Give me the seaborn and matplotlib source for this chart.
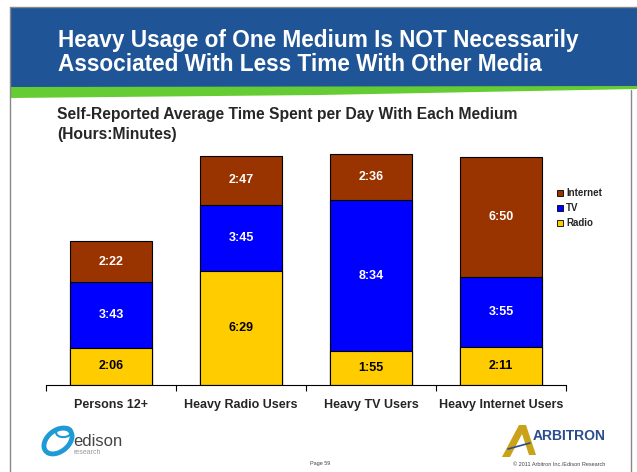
import matplotlib
matplotlib.use("Agg")
import matplotlib.pyplot as plt
import seaborn as sns
import pandas as pd
import numpy as np
from matplotlib.patches import Rectangle, Polygon, Ellipse

# ---- data (hours:minutes) ----
categories = ["Persons 12+", "Heavy Radio Users", "Heavy TV Users", "Heavy Internet Users"]
radio = ["2:06", "6:29", "1:55", "2:11"]
tv = ["3:43", "3:45", "8:34", "3:55"]
internet = ["2:22", "2:47", "2:36", "6:50"]
series_names = ["Internet", "TV", "Radio"]
series_colors = {"Internet": "#993300", "TV": "#0000FF", "Radio": "#FFCC00"}
label_colors = {"Internet": "white", "TV": "white", "Radio": "black"}

def to_min(s):
    h, m = s.split(":")
    return int(h) * 60 + int(m)

r = np.array([to_min(s) for s in radio])
t = np.array([to_min(s) for s in tv])
i = np.array([to_min(s) for s in internet])

sns.set_style("white")
plt.rcParams["font.family"] = ["Liberation Sans", "DejaVu Sans"]

W, H = 637, 472
fig = plt.figure(figsize=(W / 100, H / 100), dpi=100)

def fx(x):
    return x / W

def fy(y):
    return 1 - y / H

# slide frame
fig.add_artist(plt.Line2D([fx(10), fx(10)], [fy(7), fy(472)], color="#888888", lw=1.0))
fig.add_artist(plt.Line2D([fx(631), fx(631)], [fy(90), fy(472)], color="#888888", lw=1.0))
fig.add_artist(plt.Line2D([fx(10), fx(637)], [fy(7), fy(7)], color="#888888", lw=1.0))

# banner
fig.add_artist(Rectangle((fx(10), fy(88)), fx(627), 81 / H, transform=fig.transFigure,
                         facecolor="#1F5596", edgecolor="none"))
green = Polygon([(fx(10), fy(87)), (fx(637), fy(86)), (fx(637), fy(89)),
                 (fx(320), fy(95)), (fx(10), fy(98))], closed=True,
                transform=fig.transFigure, facecolor="#66CC33", edgecolor="none")
fig.add_artist(green)
fig.text(fx(58), fy(47.5), "Heavy Usage of One Medium Is NOT Necessarily", color="white",
         fontsize=16.25, fontweight="bold", va="baseline", ha="left")
fig.text(fx(58), fy(71), "Associated With Less Time With Other Media", color="white",
         fontsize=16.25, fontweight="bold", va="baseline", ha="left")

# subtitle
fig.text(fx(57), fy(115), "Self-Reported Average Time Spent per Day With Each Medium",
         fontsize=11.25, fontweight="bold", va="center", ha="left")
fig.text(fx(57), fy(135), "(Hours:Minutes)", fontsize=11.25, fontweight="bold", va="center", ha="left")

# axes
ax = fig.add_axes([fx(46), fy(385), fx(566) - fx(46), (385 - 150) / H])
df = pd.DataFrame({"cat": categories, "Radio": r, "TV": t, "Internet": i})
df["top_tv"] = df["Radio"] + df["TV"]
df["top_int"] = df["top_tv"] + df["Internet"]

bw = 0.63
sns.barplot(data=df, x="cat", y="top_int", color=series_colors["Internet"], saturation=1,
            width=bw, edgecolor="black", linewidth=0.8, ax=ax)
sns.barplot(data=df, x="cat", y="top_tv", color=series_colors["TV"], saturation=1,
            width=bw, edgecolor="black", linewidth=0.8, ax=ax)
sns.barplot(data=df, x="cat", y="Radio", color=series_colors["Radio"], saturation=1,
            width=bw, edgecolor="black", linewidth=0.8, ax=ax)

for k in range(len(categories)):
    segs = [("Radio", 0, r[k], radio[k]), ("TV", r[k], r[k] + t[k], tv[k]),
            ("Internet", r[k] + t[k], r[k] + t[k] + i[k], internet[k])]
    for name, lo, hi, lab in segs:
        ax.text(k, (lo + hi) / 2, lab, ha="center", va="center", fontsize=9,
                fontweight="bold", color=label_colors[name])

ax.set_xlim(-0.5, 3.5)
ax.set_ylim(0, 800)
ax.set_xlabel("")
ax.set_ylabel("")
ax.set_yticks([])
for s in ["top", "left", "right"]:
    ax.spines[s].set_visible(False)
ax.spines["bottom"].set_color("black")
ax.spines["bottom"].set_linewidth(0.8)
ax.set_xticks([-0.5, 0.5, 1.5, 2.5, 3.5])
ax.set_xticklabels([])
ax.set_xticks(range(len(categories)), minor=True)
ax.set_xticklabels(categories, minor=True, fontsize=9, fontweight="bold")
ax.tick_params(axis="x", which="major", direction="out", length=4, width=0.8, color="black", bottom=True)
ax.tick_params(axis="x", which="minor", length=0, pad=10)

# legend
for j, name in enumerate(series_names):
    yy = 193 + j * 15
    fig.add_artist(Rectangle((fx(557), fy(yy + 3)), 6 / W, 6 / H, transform=fig.transFigure,
                             facecolor=series_colors[name], edgecolor="black", lw=0.6))
    fig.text(fx(566), fy(yy), name, fontsize=7, fontweight="bold", va="center", ha="left")

# footer logos
fig.add_artist(Ellipse((fx(58), fy(441)), 24 / W, 28 / H, transform=fig.transFigure,
                       facecolor="none", edgecolor="#1E9BD7", lw=3.5, angle=-30))
fig.add_artist(Ellipse((fx(64), fy(432)), 16 / W, 10 / H, transform=fig.transFigure,
                       facecolor="none", edgecolor="#1E9BD7", lw=1.5, angle=20))
fig.text(fx(73), fy(441), "edison", fontsize=12, color="#444444", va="center", ha="left")
fig.text(fx(74), fy(452), "research", fontsize=5, color="#999999", va="center", ha="left")

gold = Polygon([(fx(502), fy(457)), (fx(519), fy(425)), (fx(526), fy(425)), (fx(536), fy(455)),
                (fx(529), fy(455)), (fx(522), fy(434)), (fx(510), fy(457))], closed=True,
               transform=fig.transFigure, facecolor="#C9A21A", edgecolor="none")
fig.add_artist(gold)
fig.add_artist(plt.Line2D([fx(508), fx(530)], [fy(449), fy(443)], color="#2B4C8C", lw=1.2))
fig.text(fx(533), fy(436), "ARBITRON", fontsize=10, fontweight="bold", color="#2B4C8C",
         va="center", ha="left")

fig.text(fx(320), fy(464), "Page 59", fontsize=4, color="#444444", va="center", ha="center")
fig.text(fx(605), fy(464), "\u00a9 2011 Arbitron Inc./Edison Research", fontsize=4, color="#444444",
         va="center", ha="right")

fig.savefig("out.png", dpi=100)
